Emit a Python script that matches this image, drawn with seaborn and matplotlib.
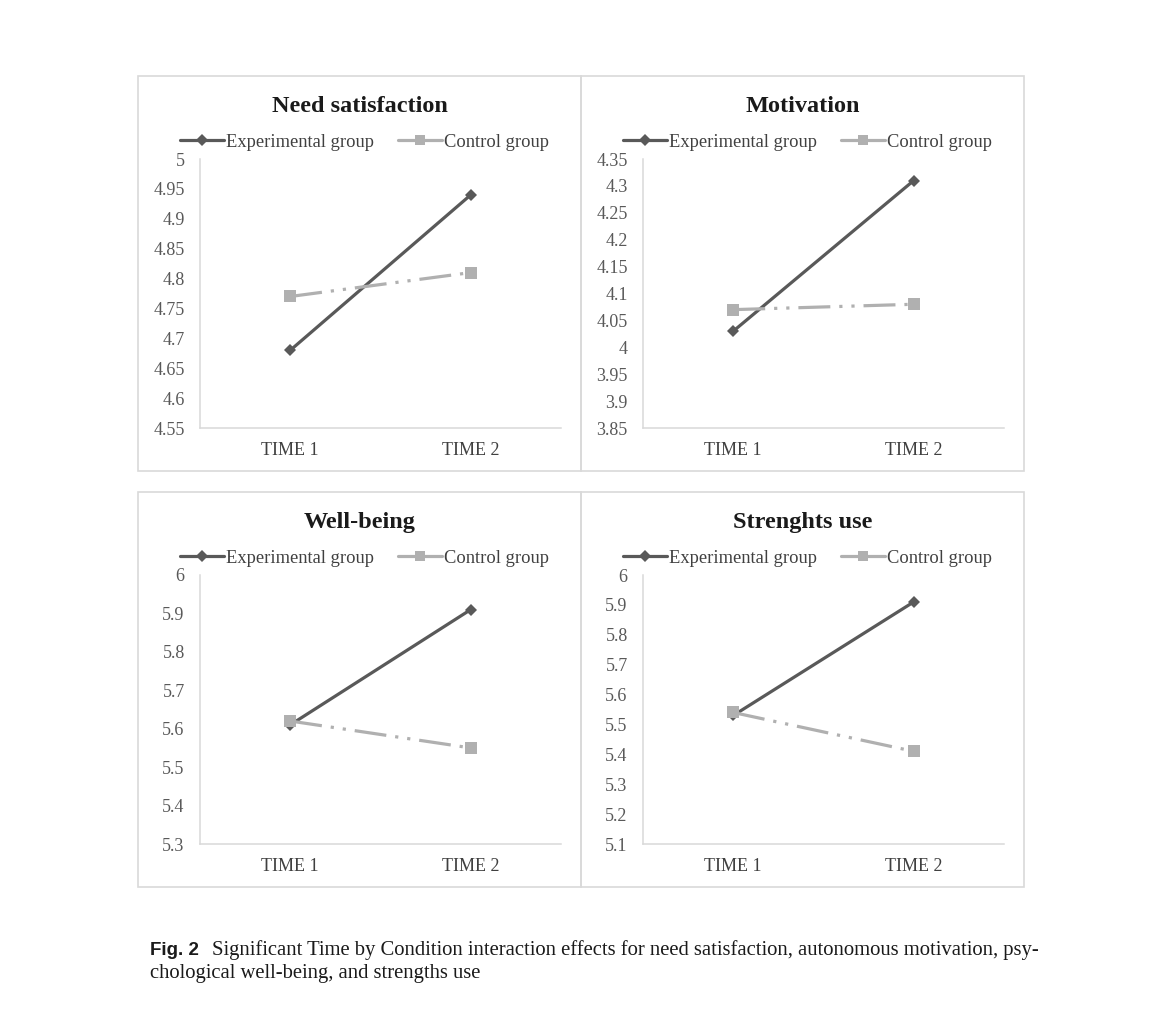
import matplotlib
matplotlib.use("Agg")
import matplotlib.pyplot as plt
import pandas as pd
import seaborn as sns
from matplotlib.lines import Line2D
from matplotlib.patches import Rectangle

# data
times = ["TIME 1", "TIME 2"]
groups = ["Experimental group", "Control group"]

need_exp = [4.68, 4.94]
need_ctrl = [4.77, 4.81]
motiv_exp = [4.03, 4.31]
motiv_ctrl = [4.07, 4.08]
well_exp = [5.61, 5.91]
well_ctrl = [5.62, 5.55]
str_exp = [5.53, 5.91]
str_ctrl = [5.54, 5.41]

titles = ["Need satisfaction", "Motivation", "Well-being", "Strenghts use"]
need_ticks = [4.55, 4.6, 4.65, 4.7, 4.75, 4.8, 4.85, 4.9, 4.95, 5]
need_labels = ["4.55", "4.6", "4.65", "4.7", "4.75", "4.8", "4.85", "4.9", "4.95", "5"]
motiv_ticks = [3.85, 3.9, 3.95, 4.0, 4.05, 4.1, 4.15, 4.2, 4.25, 4.3, 4.35]
motiv_labels = ["3.85", "3.9", "3.95", "4", "4.05", "4.1", "4.15", "4.2", "4.25", "4.3", "4.35"]
well_ticks = [5.3, 5.4, 5.5, 5.6, 5.7, 5.8, 5.9, 6.0]
well_labels = ["5.3", "5.4", "5.5", "5.6", "5.7", "5.8", "5.9", "6"]
str_ticks = [5.1, 5.2, 5.3, 5.4, 5.5, 5.6, 5.7, 5.8, 5.9, 6.0]
str_labels = ["5.1", "5.2", "5.3", "5.4", "5.5", "5.6", "5.7", "5.8", "5.9", "6"]

EXP_COLOR = "#595959"
CTRL_COLOR = "#b0b0b0"
GRID_COLOR = "#d9d9d9"
CTRL_DASH = (10, 2.8, 1, 2.8, 1, 2.8)

sns.set_style("white")
plt.rcParams["font.family"] = ["Liberation Serif", "DejaVu Serif"]

W, H = 1162, 1022
fig = plt.figure(figsize=(W / 100, H / 100), dpi=100)


def fx(px):
    return px / W


def fy(py):
    return 1 - py / H


panels = [
    (titles[0], need_exp, need_ctrl, need_ticks, need_labels, 138, 76),
    (titles[1], motiv_exp, motiv_ctrl, motiv_ticks, motiv_labels, 581, 76),
    (titles[2], well_exp, well_ctrl, well_ticks, well_labels, 138, 492),
    (titles[3], str_exp, str_ctrl, str_ticks, str_labels, 581, 492),
]

box_w, box_h = 443, 395

for title, exp_vals, ctrl_vals, yticks, ylabels, bx, by in panels:
    fig.add_artist(Rectangle((fx(bx), fy(by + box_h)), box_w / W, box_h / H,
                             transform=fig.transFigure, fill=False,
                             edgecolor=GRID_COLOR, linewidth=1.2))

    ax = fig.add_axes([fx(bx + 62), fy(by + 352), 361 / W, 269 / H])
    df = pd.DataFrame({
        "time": times * 2,
        "score": exp_vals + ctrl_vals,
        "group": [groups[0]] * 2 + [groups[1]] * 2,
    })
    sns.lineplot(data=df, x="time", y="score", hue="group", style="group",
                 palette={groups[0]: EXP_COLOR, groups[1]: CTRL_COLOR},
                 markers={groups[0]: "D", groups[1]: "s"},
                 dashes={groups[0]: "", groups[1]: CTRL_DASH},
                 linewidth=2.3, markeredgewidth=0, legend=False, ax=ax)
    for line in ax.lines:
        line.set_markersize(6.5 if line.get_marker() == "D" else 9.2)

    ax.set_xlim(-0.5, 1.5)
    ax.set_ylim(yticks[0], yticks[-1])
    ax.set_yticks(yticks)
    ax.set_yticklabels(ylabels)
    ax.set_xlabel("")
    ax.set_ylabel("")
    for side in ["top", "right"]:
        ax.spines[side].set_visible(False)
    for side in ["left", "bottom"]:
        ax.spines[side].set_color(GRID_COLOR)
        ax.spines[side].set_linewidth(1.1)
    ax.tick_params(axis="y", length=0, pad=11, labelsize=13, labelcolor="#595959")
    ax.tick_params(axis="x", length=0, pad=10, labelsize=13, labelcolor="#404040")
    ax.patch.set_alpha(0)

    cx = fx(bx + box_w / 2)
    fig.text(cx, fy(by + 36), title, ha="center", va="baseline",
             fontsize=17.5, fontweight="bold", color="#1a1a1a")

    handles = [
        Line2D([], [], color=EXP_COLOR, lw=2.3, marker="D", markersize=6.3,
               markeredgewidth=0),
        Line2D([], [], color=CTRL_COLOR, lw=2.3, marker="s", markersize=7,
               markeredgewidth=0),
    ]
    fig.legend(handles, groups, loc="center", bbox_to_anchor=(cx + fx(5), fy(by + 66)),
               ncol=2, frameon=False, fontsize=13.3, handlelength=2.4,
               handletextpad=0.1, columnspacing=1.3, borderpad=0,
               labelcolor="#404040")

# caption
fig.text(fx(150), fy(955), "Fig. 2", fontsize=13.5, fontweight="bold",
         family=["Liberation Sans", "DejaVu Sans"], va="baseline", color="#1a1a1a")
fig.text(fx(212), fy(955),
         "Significant Time by Condition interaction effects for need satisfaction, "
         "autonomous motivation, psy-",
         fontsize=14.9, va="baseline", color="#1a1a1a")
fig.text(fx(150), fy(978), "chological well-being, and strengths use",
         fontsize=14.9, va="baseline", color="#1a1a1a")

fig.savefig("out.png", dpi=100, facecolor="white")
